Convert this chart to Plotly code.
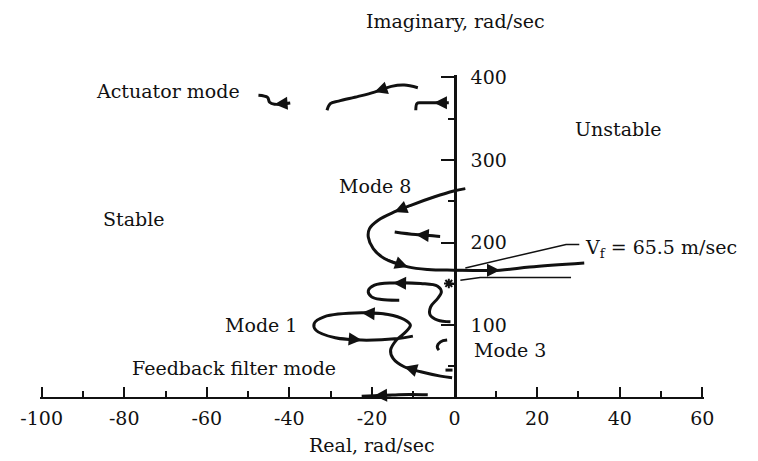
import plotly.graph_objects as go

# root locus branches: real part / imaginary part, rad/sec
act_left_re = [-39.8, -43.6, -44.8, -45.3, -47.5]
act_left_im = [369.0, 367.6, 370.0, 376.0, 378.5]

act_mid_re = [-8.9, -12.2, -15.3, -19.4, -23.3, -28.1, -30.1, -30.9]
act_mid_im = [387.6, 390.8, 389.2, 382.3, 377.1, 371.4, 368.2, 360.3]

act_right_re = [-1.4, -5.0, -8.2, -9.1, -9.4]
act_right_im = [369.3, 369.3, 369.3, 368.5, 360.3]

mode8_re = [2.6, -0.2, -5.0, -10.6, -14.6, -18.5, -20.6, -20.9, -19.7, -17.0,
            -11.3, -6.5, -0.2, 11.0, 18.2, 31.4]
mode8_im = [265.4, 262.5, 255.2, 245.2, 237.1, 227.1, 217.0, 206.8, 192.8, 180.7,
            170.6, 167.4, 166.6, 166.6, 170.5, 175.4]

mode8_inner_re = [-3.5, -9.4, -14.5]
mode8_inner_im = [207.5, 209.7, 212.9]

mode3_re = [-1.0, -4.1, -5.9, -5.8, -4.1, -3.2, -4.1, -8.2, -14.9, -19.4,
            -20.9, -20.1, -17.7, -13.4]
mode3_im = [104.0, 106.1, 112.1, 122.2, 132.3, 140.3, 147.2, 150.5, 151.2, 148.4,
            141.5, 134.3, 131.1, 130.3]

mode1_re = [-0.6, -3.4, -8.2, -12.2, -14.9, -15.5, -14.1, -11.8, -10.7, -12.2,
            -16.1, -22.5, -31.6, -34.0, -33.6, -28.9, -22.5, -13.7, -10.1]
mode1_im = [36.3, 38.3, 43.5, 49.6, 59.8, 69.8, 81.9, 91.9, 100.0, 106.9,
            113.0, 114.9, 110.1, 102.1, 94.0, 84.7, 81.9, 83.9, 86.7]

hook_re = [-1.8, -3.4, -4.2, -3.8]
hook_im = [81.9, 79.8, 73.8, 69.8]

stub_re = [-2.2, -0.5]
stub_im = [45.6, 45.6]

filter_re = [-6.5, -11.0, -15.0, -19.5, -22.5]
filter_im = [15.6, 16.0, 15.3, 14.6, 14.0]

# flutter crossing marker and leader lines to the V_f note
cross_re = [-1.4]
cross_im = [150.5]
leader_up_re = [2.6, 27.0, 30.2]
leader_up_im = [169.3, 197.7, 197.7]
leader_lo_re = [1.4, 6.2, 28.2]
leader_lo_im = [154.5, 157.7, 157.7]

x_ticks = [-100, -80, -60, -40, -20, 0, 20, 40, 60]
x_labels = ["-100", "-80", "-60", "-40", "-20", "0", "20", "40", "60"]
y_ticks = [100, 200, 300, 400]

# (re, im, [(tail index, head index), ...])
branches = [
    (act_left_re, act_left_im, [(0, 1)]),
    (act_mid_re, act_mid_im, [(2, 3)]),
    (act_right_re, act_right_im, [(0, 1)]),
    (mode8_re, mode8_im, [(3, 4), (9, 10), (12, 13)]),
    (mode8_inner_re, mode8_inner_im, [(0, 1)]),
    (mode3_re, mode3_im, [(7, 8)]),
    (mode1_re, mode1_im, [(2, 3), (10, 11), (15, 16)]),
    (hook_re, hook_im, []),
    (stub_re, stub_im, []),
    (filter_re, filter_im, [(2, 3)]),
]

FONT = "DejaVu Serif"
INK = "#111111"
SIZE = 19

fig = go.Figure()
for re, im, heads in branches:
    fig.add_trace(go.Scatter(x=re, y=im, mode="lines", line_shape="spline",
                             line=dict(color=INK, width=3), hoverinfo="skip"))
    for tail, head in heads:
        fig.add_annotation(x=re[head], y=im[head], ax=re[tail], ay=im[tail],
                           xref="x", yref="y", axref="x", ayref="y", text="",
                           showarrow=True, arrowhead=2, arrowsize=1.3,
                           arrowwidth=2, arrowcolor=INK, standoff=0)

for re, im in [(leader_up_re, leader_up_im), (leader_lo_re, leader_lo_im)]:
    fig.add_trace(go.Scatter(x=re, y=im, mode="lines",
                             line=dict(color=INK, width=1.5), hoverinfo="skip"))

fig.add_trace(go.Scatter(x=cross_re, y=cross_im, mode="markers", hoverinfo="skip",
                         marker=dict(symbol="asterisk-open", size=8, color=INK,
                                     line=dict(color=INK, width=2))))

labels = [
    ("Actuator mode", -69.5, 384),
    ("Unstable", 39.6, 338),
    ("Mode 8", -19.3, 268),
    ("Stable", -77.7, 229),
    ("Mode 1", -46.9, 100),
    ("Mode 3", 13.4, 70),
    ("Feedback filter mode", -53.5, 48),
]
for txt, x, y in labels:
    fig.add_annotation(x=x, y=y, text=txt, showarrow=False,
                       font=dict(family=FONT, size=SIZE, color=INK))
fig.add_annotation(x=31.0, y=193, text="V<sub>f</sub> = 65.5 m/sec", xanchor="left",
                   showarrow=False, font=dict(family=FONT, size=SIZE, color=INK))
fig.add_annotation(x=0.625, y=1, xref="paper", yref="paper", yshift=54,
                   yanchor="middle", text="Imaginary, rad/sec", showarrow=False,
                   font=dict(family=FONT, size=SIZE, color=INK))
fig.add_annotation(x=0.5, y=0, xref="paper", yref="paper", yshift=-48,
                   yanchor="middle", text="Real, rad/sec", showarrow=False,
                   font=dict(family=FONT, size=SIZE, color=INK))

# the page body adds an 8 px margin, so the figure is 8 px smaller
fig.update_layout(
    width=750, height=453,
    margin=dict(l=30, r=54, t=67, b=64),
    paper_bgcolor="white", plot_bgcolor="white",
    showlegend=False,
    font=dict(family=FONT, size=SIZE, color=INK),
    xaxis=dict(range=[-100.4, 60.4], tickvals=x_ticks, ticktext=x_labels,
               ticks="inside", ticklen=10, tickwidth=2, tickcolor=INK,
               minor=dict(dtick=10, tick0=0, ticks="inside", ticklen=6,
                          tickwidth=1.5, tickcolor=INK),
               showline=True, linecolor=INK, linewidth=2,
               showgrid=False, zeroline=False, ticklabelstandoff=3),
    yaxis=dict(range=[13, 403], tickvals=y_ticks, anchor="free", position=0.625,
               side="right", ticks="inside", ticklen=13, tickwidth=2,
               tickcolor=INK,
               minor=dict(dtick=50, tick0=50, ticks="inside", ticklen=6,
                          tickwidth=1.5, tickcolor=INK),
               showline=True, linecolor=INK, linewidth=2.5,
               showgrid=False, zeroline=False, ticklabelstandoff=10),
)

fig.write_html("out.html")
